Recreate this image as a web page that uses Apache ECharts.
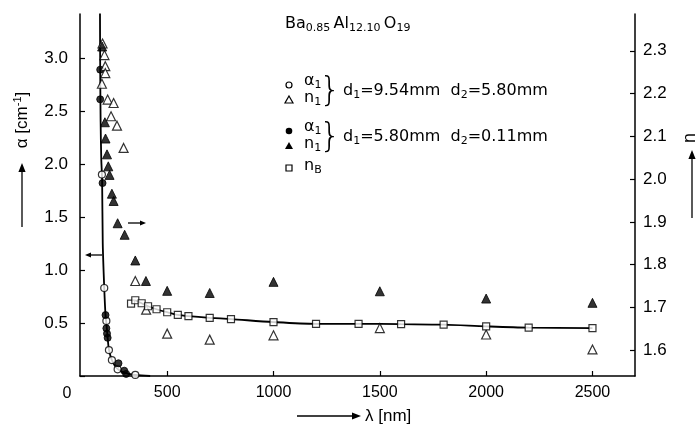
<!DOCTYPE html>
<html>
<head>
<meta charset="utf-8">
<script src="https://cdn.jsdelivr.net/npm/echarts@6/dist/echarts.min.js"></script>
<style>
  html, body { margin: 0; padding: 0; background: #fff; }
  #chart { width: 697px; height: 432px; }
</style>
</head>
<body>
<div id="chart"></div>
<script>
// alpha(lambda) curve, left axis
var lineLambda = [184, 185, 187, 190, 194, 197, 204, 210, 215, 220, 226, 240, 265, 300, 350, 420];
var lineAlpha  = [3.42, 2.9, 2.4, 2.05, 1.85, 1.25, 0.83, 0.575, 0.48, 0.36, 0.25, 0.15, 0.07, 0.03, 0.01, 0.0];

// open circles: alpha1, d1=9.54mm
var openCircLambda = [193, 204, 214, 226, 240, 267, 350];
var openCircAlpha  = [1.90, 0.83, 0.52, 0.245, 0.15, 0.063, 0.01];

// filled circles: alpha1, d1=5.80mm
var fillCircLambda = [185, 185, 196, 210, 214, 217, 220, 271, 298, 307];
var fillCircAlpha  = [2.89, 2.61, 1.82, 0.575, 0.45, 0.40, 0.36, 0.12, 0.05, 0.02];

// open triangles: n1, d1=9.54mm (right axis)
var openTriLambda = [196, 205, 209, 209, 193, 220, 248, 236, 264, 295, 350, 401, 500, 700, 1000, 1500, 2000, 2500];
var openTriN      = [2.317, 2.29, 2.264, 2.248, 2.223, 2.186, 2.178, 2.147, 2.125, 2.073, 1.762, 1.695, 1.639, 1.625, 1.635, 1.652, 1.637, 1.602];

// filled triangles: n1, d1=5.80mm (right axis)
var fillTriLambda = [194, 207, 210, 217, 223, 229, 240, 248, 267, 300, 350, 400, 500, 700, 1000, 1500, 2000, 2500];
var fillTriN      = [2.31, 2.133, 2.095, 2.058, 2.03, 2.01, 1.966, 1.949, 1.897, 1.87, 1.81, 1.762, 1.739, 1.734, 1.76, 1.738, 1.721, 1.711];

// squares: nB (right axis)
var nBLambda = [330, 350, 380, 410, 450, 500, 550, 600, 700, 800, 1000, 1200, 1400, 1600, 1800, 2000, 2200, 2500];
var nBValue  = [1.709, 1.717, 1.710, 1.703, 1.696, 1.689, 1.683, 1.680, 1.676, 1.673, 1.666, 1.662, 1.662, 1.661, 1.660, 1.656, 1.653, 1.652];

var xTicks = [500, 1000, 1500, 2000, 2500];
var nTicks = [1.6, 1.7, 1.8, 1.9, 2.0, 2.1, 2.2, 2.3];

var FONT = 'Liberation Sans';
var LEG_FONT = 'DejaVu Sans';

function pairs(xs, ys) {
    var out = [];
    for (var i = 0; i < xs.length; i++)
        out.push([xs[i], ys[i]]);
    return out;
}

// small arrow: a line with a filled head at (x2, y2)
function arrow(x1, y1, x2, y2, head) {
    var a = Math.atan2(y2 - y1, x2 - x1);
    var h = head || 7, w = h * 0.4;
    var bx = x2 - h * Math.cos(a), by = y2 - h * Math.sin(a);
    return {
        type: 'group',
        children: [
            { type: 'line', shape: { x1: x1, y1: y1, x2: bx, y2: by }, style: { stroke: '#000', lineWidth: 1.3 } },
            { type: 'polygon', shape: { points: [[x2, y2],
                [bx + w * Math.sin(a), by - w * Math.cos(a)],
                [bx - w * Math.sin(a), by + w * Math.cos(a)]] }, style: { fill: '#000' } }
        ]
    };
}

var richText = {
    m: { fontSize: 16, fontFamily: LEG_FONT, color: '#000' },
    s: { fontSize: 11, fontFamily: LEG_FONT, color: '#000', padding: [9, 0, 0, 0] }
};

var chart = echarts.init(document.getElementById('chart'));

var symStyleOpen = { color: '#fff', borderColor: '#000', borderWidth: 1.2 };
var symStyleFill = { color: '#000', borderColor: '#000', borderWidth: 1 };

option = {
    animation: false,
    backgroundColor: '#fff',
    grid: { left: 80, right: 62, top: 14, bottom: 56 },
    xAxis: {
        type: 'value',
        min: 90,
        max: 2700,
        axisLine: { show: true, lineStyle: { color: '#000', width: 1.5 } },
        axisTick: { show: true, inside: true, length: 5, customValues: xTicks, lineStyle: { color: '#000', width: 1.2 } },
        axisLabel: {
            customValues: xTicks, color: '#000', fontSize: 16, fontFamily: FONT, margin: 9,
            formatter: function (v) { return String(v); }
        },
        splitLine: { show: false }
    },
    yAxis: [{
        type: 'value',
        min: 0,
        max: 3.415,
        interval: 0.5,
        axisLine: { show: true, lineStyle: { color: '#000', width: 1.5 } },
        axisTick: { show: true, inside: true, length: 5, lineStyle: { color: '#000', width: 1.2 } },
        axisLabel: {
            color: '#000', fontSize: 17, fontFamily: FONT, margin: 12,
            showMaxLabel: false,
            formatter: function (v) { return v === 0 ? '' : v.toFixed(1); }
        },
        splitLine: { show: false }
    }, {
        type: 'value',
        position: 'right',
        min: 1.54,
        max: 2.386,
        axisLine: { show: true, lineStyle: { color: '#000', width: 1.5 } },
        axisTick: { show: true, inside: true, length: 5, customValues: nTicks, lineStyle: { color: '#000', width: 1.2 } },
        axisLabel: {
            customValues: nTicks, color: '#000', fontSize: 17, fontFamily: FONT, margin: 8,
            formatter: function (v) { return v.toFixed(1); }
        },
        splitLine: { show: false }
    }],
    series: [{
        type: 'line',
        yAxisIndex: 0,
        data: pairs(lineLambda, lineAlpha),
        smooth: 0.3,
        showSymbol: false,
        lineStyle: { color: '#000', width: 1.8 },
        z: 2
    }, {
        type: 'line',
        yAxisIndex: 1,
        data: pairs(nBLambda.slice(1), nBValue.slice(1)),
        smooth: 0.3,
        showSymbol: false,
        lineStyle: { color: '#000', width: 1.8 },
        z: 2
    }, {
        type: 'scatter',
        yAxisIndex: 0,
        data: pairs(openCircLambda, openCircAlpha),
        symbol: 'circle', symbolSize: 7,
        itemStyle: symStyleOpen, z: 4
    }, {
        type: 'scatter',
        yAxisIndex: 0,
        data: pairs(fillCircLambda, fillCircAlpha),
        symbol: 'circle', symbolSize: 7,
        itemStyle: symStyleFill, z: 4
    }, {
        type: 'scatter',
        yAxisIndex: 1,
        data: pairs(openTriLambda, openTriN),
        symbol: 'triangle', symbolSize: 9,
        itemStyle: symStyleOpen, z: 4
    }, {
        type: 'scatter',
        yAxisIndex: 1,
        data: pairs(fillTriLambda, fillTriN),
        symbol: 'triangle', symbolSize: 9,
        itemStyle: symStyleFill, z: 4
    }, {
        type: 'scatter',
        yAxisIndex: 1,
        data: pairs(nBLambda, nBValue),
        symbol: 'rect', symbolSize: 7,
        itemStyle: symStyleOpen, z: 5
    }],
    graphic: [
        // "0" origin label
        { type: 'text', x: 67, y: 394, style: { text: '0', fontSize: 16, fontFamily: FONT, fill: '#000', align: 'center', verticalAlign: 'middle' } },
        // axis names
        { type: 'text', x: 22, y: 120, rotation: Math.PI / 2,
          style: { text: '{m|α [cm}{p|-1}{m|]}', align: 'center', verticalAlign: 'middle',
                   rich: { m: { fontSize: 17, fontFamily: FONT, fill: '#000' },
                           p: { fontSize: 11, fontFamily: FONT, fill: '#000', padding: [0, 0, 9, 0] } } } },
        arrow(22, 227, 22, 163, 9),
        { type: 'text', x: 690, y: 138, rotation: Math.PI / 2,
          style: { text: 'n', fontSize: 18, fontFamily: FONT, fill: '#000', align: 'center', verticalAlign: 'middle' } },
        arrow(692, 218, 692, 150, 9),
        arrow(297, 416, 361, 416, 9),
        { type: 'text', x: 365, y: 416,
          style: { text: 'λ [nm]', fontSize: 17, fontFamily: FONT, fill: '#000', align: 'left', verticalAlign: 'middle' } },
        // arrows pointing to the axes
        arrow(102, 255, 85, 255, 6),
        arrow(128, 223, 146, 223, 6),
        // title
        { type: 'text', x: 285, y: 24,
          style: { text: '{m|Ba}{s|0.85} {m|Al}{s|12.10} {m|O}{s|19}', align: 'left', verticalAlign: 'middle', rich: richText } },
        // legend
        { type: 'circle', shape: { cx: 289, cy: 85, r: 3 }, style: { fill: '#fff', stroke: '#000', lineWidth: 1.2 } },
        { type: 'polygon', shape: { points: [[289, 96], [293, 103], [285, 103]] }, style: { fill: '#fff', stroke: '#000', lineWidth: 1.2 } },
        { type: 'text', x: 304, y: 81, style: { text: '{m|α}{s|1}', verticalAlign: 'middle', rich: richText } },
        { type: 'text', x: 304, y: 98, style: { text: '{m|n}{s|1}', verticalAlign: 'middle', rich: richText } },
        { type: 'text', x: 330, y: 92, style: { text: '}', fontSize: 34, fontFamily: 'DejaVu Sans', fontWeight: 200, fill: '#000', align: 'center', verticalAlign: 'middle' } },
        { type: 'text', x: 343, y: 91, style: { text: '{m|d}{s|1}{m|=9.54mm  d}{s|2}{m|=5.80mm}', verticalAlign: 'middle', rich: richText } },

        { type: 'circle', shape: { cx: 289, cy: 131, r: 3.3 }, style: { fill: '#000' } },
        { type: 'polygon', shape: { points: [[289, 142], [293, 149], [285, 149]] }, style: { fill: '#000' } },
        { type: 'text', x: 304, y: 127, style: { text: '{m|α}{s|1}', verticalAlign: 'middle', rich: richText } },
        { type: 'text', x: 304, y: 144, style: { text: '{m|n}{s|1}', verticalAlign: 'middle', rich: richText } },
        { type: 'text', x: 330, y: 138, style: { text: '}', fontSize: 34, fontFamily: 'DejaVu Sans', fontWeight: 200, fill: '#000', align: 'center', verticalAlign: 'middle' } },
        { type: 'text', x: 343, y: 137, style: { text: '{m|d}{s|1}{m|=5.80mm  d}{s|2}{m|=0.11mm}', verticalAlign: 'middle', rich: richText } },

        { type: 'rect', shape: { x: 286, y: 165, width: 6, height: 6 }, style: { fill: '#fff', stroke: '#000', lineWidth: 1.2 } },
        { type: 'text', x: 304, y: 166, style: { text: '{m|n}{s|B}', verticalAlign: 'middle', rich: richText } }
    ]
};

chart.setOption(option);
</script>
</body>
</html>
